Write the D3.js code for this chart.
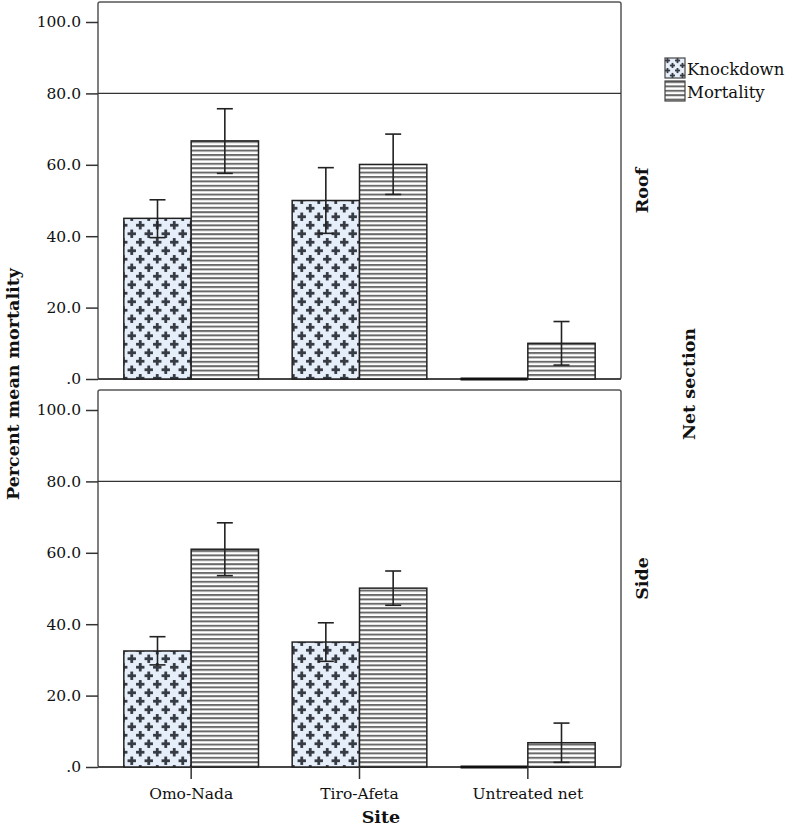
<!DOCTYPE html>
<html>
<head>
<meta charset="utf-8">
<script src="https://cdn.jsdelivr.net/npm/d3@7"></script>
<style>
  html, body { margin: 0; padding: 0; background: #fff; }
  svg { display: block; }
  text { font-family: "DejaVu Serif", "Liberation Serif", serif; fill: #111; }
</style>
</head>
<body>
<script>
// ---------- data ----------
const sites = ["Omo-Nada", "Tiro-Afeta", "Untreated net"];
const sections = ["Roof", "Side"];
const seriesNames = ["Knockdown", "Mortality"];
const yTicks = [0, 20, 40, 60, 80, 100];

const roofKnockdown      = [45.0, 50.0, 0];
const roofKnockdownLow   = [39.6, 40.8, null];
const roofKnockdownHigh  = [50.2, 59.2, null];
const roofMortality      = [66.7, 60.1, 10.0];
const roofMortalityLow   = [57.6, 51.7, 3.9];
const roofMortalityHigh  = [75.7, 68.6, 16.1];

const sideKnockdown      = [32.5, 35.0, 0];
const sideKnockdownLow   = [28.6, 29.6, null];
const sideKnockdownHigh  = [36.5, 40.4, null];
const sideMortality      = [61.0, 50.1, 6.8];
const sideMortalityLow   = [53.6, 45.3, 1.3];
const sideMortalityHigh  = [68.4, 54.9, 12.3];

const panelData = {
  Roof: [
    {series: "Knockdown", values: roofKnockdown, low: roofKnockdownLow, high: roofKnockdownHigh},
    {series: "Mortality", values: roofMortality, low: roofMortalityLow, high: roofMortalityHigh}
  ],
  Side: [
    {series: "Knockdown", values: sideKnockdown, low: sideKnockdownLow, high: sideKnockdownHigh},
    {series: "Mortality", values: sideMortality, low: sideMortalityLow, high: sideMortalityHigh}
  ]
};

// ---------- layout ----------
const W = 797, H = 834;
const frameL = 98, frameR = 621;
const panels = {
  Roof: {top: 2, y0: 379, y100: 22},
  Side: {top: 390, y0: 767, y100: 410}
};

const svg = d3.select("body").append("svg").attr("width", W).attr("height", H);

// patterns
const defs = svg.append("defs");
function plusPattern(id, size, arm, thick) {
  const pk = defs.append("pattern").attr("id", id)
    .attr("patternUnits", "userSpaceOnUse").attr("width", size).attr("height", size);
  pk.append("rect").attr("width", size).attr("height", size).attr("fill", "#e6eef9");
  [[size / 4, size / 4], [size * 3 / 4, size * 3 / 4]].forEach(([cx, cy]) => {
    pk.append("rect").attr("x", cx - arm).attr("y", cy - thick / 2).attr("width", arm * 2).attr("height", thick).attr("fill", "#363b44");
    pk.append("rect").attr("x", cx - thick / 2).attr("y", cy - arm).attr("width", thick).attr("height", arm * 2).attr("fill", "#363b44");
  });
}
plusPattern("knock", 17, 4.2, 2.8);
plusPattern("knockLegend", 10, 2.6, 1.8);

const pm = defs.append("pattern").attr("id", "mort")
  .attr("patternUnits", "userSpaceOnUse").attr("width", 10).attr("height", 4.4);
pm.append("rect").attr("width", 10).attr("height", 4.4).attr("fill", "#fff");
pm.append("rect").attr("y", 0).attr("width", 10).attr("height", 2).attr("fill", "#6a6a6a");

const fillFor = s => s === "Knockdown" ? "url(#knock)" : "url(#mort)";
const legendFill = s => s === "Knockdown" ? "url(#knockLegend)" : "url(#mort)";

const x = d3.scaleBand().domain(sites).range([107, 612]).paddingInner(0).paddingOuter(0);
const xs = d3.scaleBand().domain(seriesNames).range([0, x.bandwidth()]).paddingInner(0).paddingOuter(0.25);

sections.forEach(sec => {
  const p = panels[sec];
  const y = d3.scaleLinear().domain([0, 100]).range([p.y0, p.y100]);
  const g = svg.append("g");

  // frame
  g.append("rect").attr("x", frameL).attr("y", p.top)
    .attr("width", frameR - frameL).attr("height", p.y0 - p.top)
    .attr("fill", "none").attr("stroke", "#555").attr("stroke-width", 1.5).attr("rx", 2);

  // reference line at 80
  g.append("line").attr("x1", frameL).attr("x2", frameR)
    .attr("y1", y(80)).attr("y2", y(80)).attr("stroke", "#333").attr("stroke-width", 1.3);

  // y axis
  const ya = d3.axisLeft(y).tickValues(yTicks).tickSize(12).tickPadding(5)
    .tickFormat(d => d === 0 ? ".0" : d.toFixed(1));
  const yg = g.append("g").attr("transform", `translate(${frameL},0)`).call(ya);
  yg.select(".domain").remove();
  yg.selectAll(".tick line").attr("stroke", "#333").attr("stroke-width", 1.5);
  yg.selectAll(".tick text").style("font-family", "DejaVu Serif").style("font-size", "15.5px").attr("fill", "#111");

  // baseline
  g.append("line").attr("x1", frameL).attr("x2", frameR)
    .attr("y1", y(0)).attr("y2", y(0)).attr("stroke", "#333").attr("stroke-width", 1.5);

  // bars
  panelData[sec].forEach(sd => {
    const gs = g.append("g");
    sites.forEach((site, i) => {
      const v = sd.values[i];
      const bx = x(site) + xs(sd.series);
      if (v === 0) {
        gs.append("line").attr("x1", bx).attr("x2", bx + xs.bandwidth())
          .attr("y1", y(0)).attr("y2", y(0))
          .attr("stroke", "#111").attr("stroke-width", 3);
        return;
      }
      gs.append("rect")
        .attr("x", bx).attr("width", xs.bandwidth())
        .attr("y", y(v)).attr("height", y(0) - y(v))
        .attr("fill", fillFor(sd.series))
        .attr("stroke", "#222").attr("stroke-width", 1.5);
      if (sd.low[i] != null) {
        const cx = bx + xs.bandwidth() / 2;
        gs.append("line").attr("x1", cx).attr("x2", cx)
          .attr("y1", y(sd.high[i])).attr("y2", y(sd.low[i]))
          .attr("stroke", "#222").attr("stroke-width", 1.6);
        [sd.high[i], sd.low[i]].forEach(e => {
          gs.append("line").attr("x1", cx - 8).attr("x2", cx + 8)
            .attr("y1", y(e)).attr("y2", y(e))
            .attr("stroke", "#222").attr("stroke-width", 1.6);
        });
      }
    });
  });

  // section label
  const cy = (p.top + p.y0) / 2;
  g.append("text").attr("transform", `translate(648,${cy}) rotate(-90)`)
    .attr("text-anchor", "middle").attr("font-weight", "bold").attr("font-size", 17.5)
    .text(sec);

  if (sec === "Side") {
    const xa = d3.axisBottom(x).tickSize(12).tickPadding(9);
    const xg = g.append("g").attr("transform", `translate(0,${p.y0})`).call(xa);
    xg.select(".domain").remove();
    xg.selectAll(".tick line").attr("stroke", "#333").attr("stroke-width", 1.5);
    xg.selectAll(".tick text").style("font-family", "DejaVu Serif").style("font-size", "15.5px").attr("fill", "#111");
  }
});

// axis titles
svg.append("text").attr("x", 381).attr("y", 823).attr("text-anchor", "middle")
  .attr("font-weight", "bold").attr("font-size", 17.5).text("Site");
svg.append("text").attr("transform", "translate(19,384) rotate(-90)").attr("text-anchor", "middle")
  .attr("font-weight", "bold").attr("font-size", 17.5).text("Percent mean mortality");
svg.append("text").attr("transform", "translate(695,384) rotate(-90)").attr("text-anchor", "middle")
  .attr("font-weight", "bold").attr("font-size", 17.5).text("Net section");

// legend
const lg = svg.append("g").attr("transform", "translate(665,58)");
seriesNames.forEach((s, i) => {
  const row = lg.append("g").attr("transform", `translate(0,${i * 23})`);
  row.append("rect").attr("width", 20).attr("height", 20)
    .attr("fill", legendFill(s)).attr("stroke", "#444").attr("stroke-width", 1.2);
  row.append("text").attr("x", 22).attr("y", 17).attr("font-size", 16.5).text(s);
});
</script>
</body>
</html>
